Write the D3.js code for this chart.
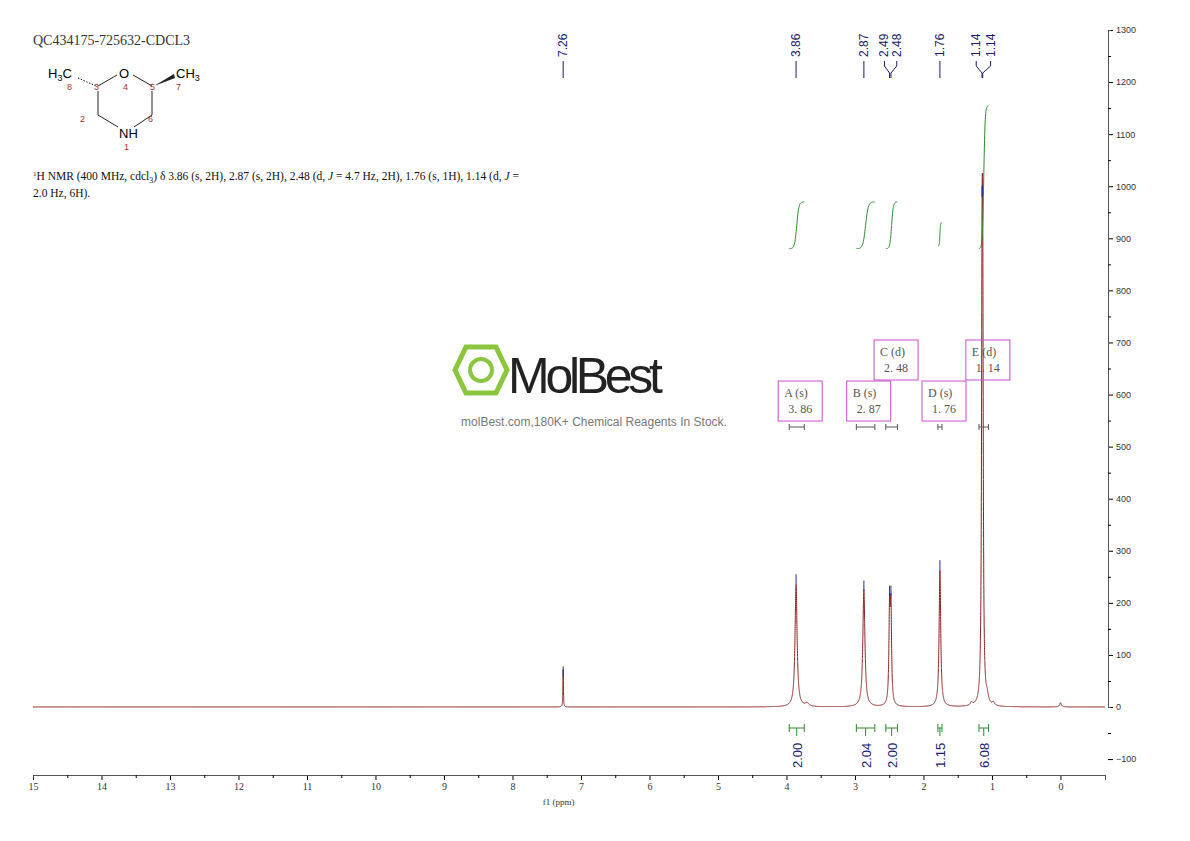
<!DOCTYPE html>
<html><head><meta charset="utf-8">
<script src="https://cdn.jsdelivr.net/npm/d3@7"></script>
<style>body{margin:0;background:#fff}</style>
</head><body><div id="chart"></div>
<script>
// peaks: ppm, height, half width (ppm)
const peakPpm = [7.26, 3.86, 2.87, 2.495, 2.475, 1.76, 1.145, 1.135, 0.0, 3.70, 1.30, 1.07, 0.98];
const peakHeight = [72, 235, 225, 175, 175, 262, 670, 670, 8, 6, 6, 14, 6];
const peakWidth = [0.004, 0.018, 0.018, 0.011, 0.011, 0.014, 0.009, 0.009, 0.015, 0.03, 0.02, 0.02, 0.02];

const shiftLabels = ['7.26', '3.86', '2.87', '2.49', '2.48', '1.76', '1.14', '1.14'];
const shiftPpm = [7.26, 3.86, 2.87, 2.495, 2.475, 1.76, 1.145, 1.135];
const shiftLabelPpm = [7.26, 3.86, 2.87, 2.57, 2.39, 1.76, 1.23, 1.02];

// integrals: from, to, value, curve bottom/top
const intFrom = [3.96, 2.98, 2.55, 1.79, 1.19];
const intTo = [3.74, 2.71, 2.38, 1.73, 1.05];
const intValue = ['2.00', '2.04', '2.00', '1.15', '6.08'];
const intBottom = [880, 880, 880, 885, 880];
const intTop = [970, 970, 970, 930, 1155];

const multLetter = ['A (s)', 'B (s)', 'C (d)', 'D (s)', 'E (d)'];
const multPpm = ['3.86', '2.87', '2.48', '1.76', '1.14'];
const multCenter = [3.80, 2.80, 2.40, 1.70, 1.06];
const multLevel = [0, 0, 1, 0, 1];

const xTicks = d3.range(0, 16);
const yTicks = d3.range(-100, 1301, 100);

const xScale = d3.scaleLinear().domain([15, -0.65]).range([33, 1105]);
const yScale = d3.scaleLinear().domain([0, 1300]).range([707, 30]);

const svg = d3.select('#chart').append('svg')
    .attr('width', 1190).attr('height', 841)
    .style('font-family', 'Liberation Serif');

// x axis
const xAxis = svg.append('g').attr('transform', 'translate(0,775)')
    .call(d3.axisBottom(xScale).tickValues(xTicks).tickFormat(d3.format('d')).tickSize(5));
svg.append('g').attr('transform', 'translate(0,775)')
    .call(d3.axisBottom(xScale).tickValues(d3.range(0.5, 15, 1)).tickFormat('').tickSize(3));
xAxis.selectAll('text').attr('font-family', 'Liberation Serif').attr('font-size', 10).attr('fill', '#333');
svg.append('text').attr('x', xScale(7.5) + 12).attr('y', 805).attr('text-anchor', 'middle')
    .attr('font-size', 9).attr('fill', '#333').text('f1 (ppm)');

// y axis
const yAxis = svg.append('g').attr('transform', 'translate(1108,0)')
    .call(d3.axisRight(yScale).tickValues(yTicks).tickFormat(d3.format('d')).tickSize(5));
svg.append('g').attr('transform', 'translate(1108,0)')
    .call(d3.axisRight(yScale).tickValues(d3.range(-50, 1300, 100)).tickFormat('').tickSize(3));
yAxis.selectAll('text').attr('font-family', 'Liberation Sans').attr('font-size', 9).attr('fill', '#333');
svg.selectAll('.domain').attr('stroke', '#555');

// spectrum
const grid = d3.range(15, -0.65, -0.0005).concat(peakPpm).sort((a, b) => b - a);
const spec = grid.map(function (x) {
    let y = 0;
    peakPpm.forEach(function (p, i) {
        const w = peakWidth[i];
        y += peakHeight[i] * w * w / ((x - p) * (x - p) + w * w);
    });
    return [x, y];
});
const line = d3.line().x(d => xScale(d[0])).y(d => yScale(d[1]));
svg.append('path').datum(spec).attr('d', line)
    .attr('fill', 'none').attr('stroke', '#8b2020').attr('stroke-width', 1);

// peak tip markers
const tipTop = [78, 255, 243, 233, 233, 282, 1000, 1000];
shiftPpm.forEach(function (p, i) {
    svg.append('line').attr('x1', xScale(p)).attr('x2', xScale(p))
        .attr('y1', yScale(tipTop[i])).attr('y2', yScale(tipTop[i] - 20)).attr('stroke', '#2a2a9a').attr('stroke-width', 1);
});

// shift labels at top
shiftLabels.forEach(function (t, i) {
    const lx = xScale(shiftLabelPpm[i]);
    svg.append('text').attr('transform', 'translate(' + (lx + 4) + ',57) rotate(-90)')
        .attr('font-family', 'Liberation Sans').attr('font-size', 12).attr('fill', '#1a1a6a').text(t);
    const px = xScale(shiftPpm[i]);
    if (shiftLabelPpm[i] === shiftPpm[i]) {
        svg.append('line').attr('x1', px).attr('x2', px).attr('y1', 61).attr('y2', 78).attr('stroke', '#1a1a6a');
    } else {
        svg.append('path').attr('d', 'M' + lx + ',61 L' + lx + ',66 L' + px + ',73 L' + px + ',78')
            .attr('fill', 'none').attr('stroke', '#1a1a6a');
    }
});

// integral curves
intFrom.forEach(function (f, i) {
    const x0 = xScale(f), x1 = xScale(intTo[i]);
    const y0 = yScale(intBottom[i]), y1 = yScale(intTop[i]);
    const c = d3.scaleLinear().domain([0, 1]).range([x0, x1]);
    const pts = d3.range(0, 1.001, 0.02).map(t => [c(t), y0 + (y1 - y0) / (1 + Math.exp(-(t - 0.5) * 14))]);
    svg.append('path').datum(pts).attr('d', d3.line()).attr('fill', 'none')
        .attr('stroke', '#2e8b2e').attr('stroke-width', 1);
    // bottom integral bars
    const by = 728;
    svg.append('path').attr('d', 'M' + x0 + ',' + (by - 4) + 'V' + (by + 4) + 'M' + x0 + ',' + by + 'H' + x1 +
        'M' + x1 + ',' + (by - 4) + 'V' + (by + 4)).attr('stroke', '#2e8b2e').attr('fill', 'none');
    const mx = (x0 + x1) / 2;
    svg.append('line').attr('x1', mx).attr('x2', mx).attr('y1', by).attr('y2', by + 8).attr('stroke', '#2e8b2e');
    svg.append('text').attr('transform', 'translate(' + (mx + 5) + ',768) rotate(-90)')
        .attr('font-family', 'Liberation Sans').attr('font-size', 13).attr('fill', '#1a1a6a').text(intValue[i]);
    // multiplet ranges
    svg.append('path').attr('d', 'M' + x0 + ',424V430M' + x0 + ',427H' + x1 + 'M' + x1 + ',424V430')
        .attr('stroke', '#555').attr('fill', 'none');
    // multiplet boxes
    const bx = xScale(multCenter[i]) - 22, byy = multLevel[i] ? 340 : 381;
    svg.append('rect').attr('x', bx).attr('y', byy).attr('width', 44).attr('height', 40)
        .attr('fill', 'none').attr('stroke', '#c84cc8').attr('stroke-width', 1);
    svg.append('text').attr('x', bx + 6).attr('y', byy + 16).attr('font-size', 12).attr('fill', '#555').text(multLetter[i]);
    svg.append('text').attr('x', bx + 22).attr('y', byy + 32).attr('text-anchor', 'middle')
        .attr('font-size', 12).attr('fill', '#555').text(multPpm[i].replace('.', '. '));
});

// title and description
svg.append('text').attr('x', 33).attr('y', 45).attr('font-size', 14).attr('fill', '#333').text('QC434175-725632-CDCL3');
const desc = svg.append('text').attr('x', 33).attr('y', 180).attr('font-size', 11.5).attr('fill', '#111');
desc.append('tspan').attr('font-size', 7).attr('dy', -4).text('1');
desc.append('tspan').attr('dy', 4).text('H NMR (400 MHz, cdcl');
desc.append('tspan').attr('font-size', 8).attr('dy', 3).text('3');
desc.append('tspan').attr('dy', -3).text(') δ 3.86 (s, 2H), 2.87 (s, 2H), 2.48 (d, ');
desc.append('tspan').attr('font-style', 'italic').text('J');
desc.append('tspan').text(' = 4.7 Hz, 2H), 1.76 (s, 1H), 1.14 (d, ');
desc.append('tspan').attr('font-style', 'italic').text('J');
desc.append('tspan').text(' =');
svg.append('text').attr('x', 33).attr('y', 197).attr('font-size', 11.5).attr('fill', '#111').text('2.0 Hz, 6H).');

// structure
const st = svg.append('g').attr('font-family', 'Liberation Sans');
st.append('path').attr('d', 'M98,86 L117,75 M133,75 L152,86 M98,91 V115 M152,91 V115 M98,115 L118,127 M152,115 L134,127')
    .attr('stroke', '#222').attr('fill', 'none');
st.append('path').attr('d', 'M154,86 L174,74 L175,78 Z').attr('fill', '#222');
st.append('path').attr('d', 'M78,78 L96,86').attr('stroke', '#222').attr('stroke-dasharray', '1.5,1.5');
st.append('text').attr('x', 119).attr('y', 78).attr('font-size', 13).text('O');
st.append('text').attr('x', 119).attr('y', 138).attr('font-size', 13).text('NH');
const h3 = st.append('text').attr('x', 48).attr('y', 78).attr('font-size', 13);
h3.append('tspan').text('H'); h3.append('tspan').attr('font-size', 9).attr('dy', 3).text('3'); h3.append('tspan').attr('dy', -3).text('C');
const c3 = st.append('text').attr('x', 176).attr('y', 78).attr('font-size', 13);
c3.append('tspan').text('CH'); c3.append('tspan').attr('font-size', 9).attr('dy', 3).text('3');
[['8', 67, 90], ['3', 94, 90], ['4', 123, 90], ['5', 150, 90], ['7', 176, 90], ['2', 80, 122], ['6', 148, 122], ['1', 124, 150]]
    .forEach(d => st.append('text').attr('x', d[1]).attr('y', d[2]).attr('font-size', 9).attr('fill', '#b03030').text(d[0]));

// watermark
const wm = svg.append('g');
wm.append('path').attr('d', 'M466,347 L496,347 L507,370 L496,393 L466,393 L455,370 Z')
    .attr('fill', 'none').attr('stroke', '#8cc63f').attr('stroke-width', 5);
wm.append('circle').attr('cx', 481).attr('cy', 370).attr('r', 11).attr('fill', 'none').attr('stroke', '#8cc63f').attr('stroke-width', 4);
wm.append('text').attr('x', 508).attr('y', 393).attr('font-family', 'Liberation Sans Narrow, Liberation Sans')
    .attr('font-size', 50).attr('fill', '#222').attr('textLength', 155).text('MolBest');
wm.append('text').attr('x', 594).attr('y', 426).attr('text-anchor', 'middle').attr('font-family', 'Liberation Sans')
    .attr('font-size', 12).attr('fill', '#777').text('molBest.com,180K+ Chemical Reagents In Stock.');
</script></body></html>
